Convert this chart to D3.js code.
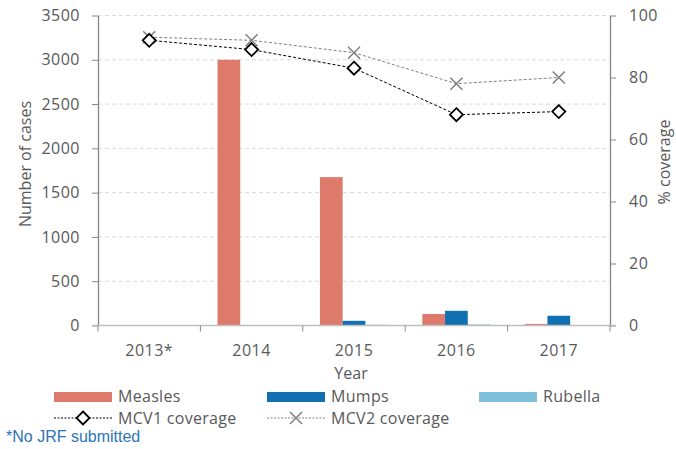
<!DOCTYPE html>
<html>
<head>
<meta charset="utf-8">
<script src="https://cdn.jsdelivr.net/npm/d3@7"></script>
<style>
  body { margin: 0; background: #fff; }
  text { font-family: "Open Sans", sans-serif; fill: #595959; }
</style>
</head>
<body>
<svg width="676" height="449"></svg>
<script>
// data
const years = ["2013*", "2014", "2015", "2016", "2017"];
const measles = [0, 3000, 1675, 130, 18];
const mumps = [0, 0, 53, 166, 110];
const rubella = [0, 0, 8, 12, 5];
const mcv1 = [92, 89, 83, 68, 69];
const mcv2 = [93, 92, 88, 78, 80];
const leftTicks = [0, 500, 1000, 1500, 2000, 2500, 3000, 3500];
const rightTicks = [0, 20, 40, 60, 80, 100];

const barSeries = [
  { name: "Measles", values: measles, color: "#DD7A6B" },
  { name: "Mumps", values: mumps, color: "#1070B2" },
  { name: "Rubella", values: rubella, color: "#80BFDA" }
];

window.onload = () => {
  const svg = d3.select("svg");
  const left = 98, right = 610, top = 15.5, bottom = 325.5;

  const x0 = d3.scaleBand().domain(years).range([left, right]).padding(0);
  const x1 = d3.scaleBand().domain(barSeries.map(s => s.name))
    .range([0, x0.bandwidth()]).paddingInner(0).paddingOuter(0.755);
  const yL = d3.scaleLinear().domain([0, 3500]).range([bottom, top]);
  const yR = d3.scaleLinear().domain([0, 100]).range([bottom, top]);

  // gridlines
  svg.append("g").selectAll("line")
    .data(leftTicks.filter(d => d > 0))
    .enter().append("line")
    .attr("x1", left).attr("x2", right)
    .attr("y1", d => yL(d)).attr("y2", d => yL(d))
    .attr("stroke", "#D9D9D9").attr("stroke-dasharray", "4,3");

  // bars
  barSeries.forEach(s => {
    svg.append("g").selectAll("rect")
      .data(s.values)
      .enter().append("rect")
      .attr("x", (d, i) => x0(years[i]) + x1(s.name))
      .attr("y", d => yL(d))
      .attr("width", x1.bandwidth())
      .attr("height", d => bottom - yL(d))
      .attr("fill", s.color);
  });

  // left axis
  const gL = svg.append("g").attr("transform", `translate(${left},0)`)
    .call(d3.axisLeft(yL).tickValues(leftTicks).tickFormat(d3.format("d"))
      .tickSize(6).tickPadding(12).tickSizeOuter(0));
  // right axis
  const gR = svg.append("g").attr("transform", `translate(${right},0)`)
    .call(d3.axisRight(yR).tickValues(rightTicks).tickSize(6).tickPadding(13).tickSizeOuter(0));
  [gL, gR].forEach(g => {
    g.select(".domain").attr("stroke", "#868686").attr("stroke-width", 1.3);
    g.selectAll(".tick line").attr("stroke", "#868686");
    g.selectAll(".tick text").style("font-size", "16px").attr("fill", "#595959")
      .style("font-family", "'Open Sans', sans-serif").attr("letter-spacing", "0.5");
  });

  // x axis
  svg.append("line")
    .attr("x1", left - 6).attr("x2", right + 6)
    .attr("y1", bottom).attr("y2", bottom)
    .attr("stroke", "#BFBFBF").attr("stroke-width", 1.5);
  const xTicks = years.map(y => x0(y)).concat([right]);
  svg.append("g").selectAll("line")
    .data(xTicks).enter().append("line")
    .attr("x1", d => d).attr("x2", d => d)
    .attr("y1", bottom).attr("y2", bottom + 6)
    .attr("stroke", "#868686");
  svg.append("g").selectAll("text")
    .data(years).enter().append("text")
    .attr("x", d => x0(d) + x0.bandwidth() / 2)
    .attr("y", 356)
    .attr("text-anchor", "middle")
    .style("font-size", "16px").attr("letter-spacing", "0.5")
    .text(d => d);

  // lines
  const lineFor = vals => d3.line()
    .x((d, i) => x0(years[i]) + x0.bandwidth() / 2)
    .y(d => yR(d))(vals);
  svg.append("path").attr("d", lineFor(mcv2))
    .attr("fill", "none").attr("stroke", "#808080").attr("stroke-width", 1)
    .attr("stroke-dasharray", "3,2");
  svg.append("path").attr("d", lineFor(mcv1))
    .attr("fill", "none").attr("stroke", "#000").attr("stroke-width", 1)
    .attr("stroke-dasharray", "3,2");

  const diamond = (g, cx, cy) => g.append("path")
    .attr("d", `M${cx},${cy - 6.5}L${cx + 6.5},${cy}L${cx},${cy + 6.5}L${cx - 6.5},${cy}Z`)
    .attr("fill", "#fff").attr("stroke", "#000").attr("stroke-width", 1.8);
  const cross = (g, cx, cy) => g.append("path")
    .attr("d", `M${cx - 6},${cy - 6}L${cx + 6},${cy + 6}M${cx - 6},${cy + 6}L${cx + 6},${cy - 6}`)
    .attr("stroke", "#7F7F7F").attr("stroke-width", 1.5);

  const mk = svg.append("g");
  mcv2.forEach((v, i) => cross(mk, x0(years[i]) + x0.bandwidth() / 2, yR(v)));
  mcv1.forEach((v, i) => diamond(mk, x0(years[i]) + x0.bandwidth() / 2, yR(v)));

  // axis titles
  svg.append("text")
    .attr("transform", "translate(31,164) rotate(-90)")
    .attr("text-anchor", "middle").style("font-size", "16px")
    .text("Number of cases");
  svg.append("text")
    .attr("transform", "translate(670,162) rotate(-90)")
    .attr("text-anchor", "middle").style("font-size", "16px")
    .text("% coverage");
  svg.append("text")
    .attr("x", 351).attr("y", 379)
    .attr("text-anchor", "middle").style("font-size", "16px")
    .text("Year");

  // legend
  const leg = svg.append("g");
  const legX = [54, 267, 479];
  barSeries.forEach((s, i) => {
    leg.append("rect").attr("x", legX[i]).attr("y", 392).attr("width", 58).attr("height", 10)
      .attr("fill", s.color);
    leg.append("text").attr("x", legX[i] + 64).attr("y", 402)
      .style("font-size", "16px").attr("letter-spacing", "0.3").text(s.name);
  });
  leg.append("line").attr("x1", 54).attr("x2", 112).attr("y1", 418).attr("y2", 418)
    .attr("stroke", "#000").attr("stroke-dasharray", "2,1.5");
  diamond(leg, 83, 418);
  leg.append("text").attr("x", 118).attr("y", 424)
    .style("font-size", "16px").attr("letter-spacing", "0.3").text("MCV1 coverage");
  leg.append("line").attr("x1", 267).attr("x2", 325).attr("y1", 418).attr("y2", 418)
    .attr("stroke", "#808080").attr("stroke-dasharray", "2,1.5");
  cross(leg, 296, 418);
  leg.append("text").attr("x", 331).attr("y", 424)
    .style("font-size", "16px").attr("letter-spacing", "0.3").text("MCV2 coverage");

  svg.append("text").attr("x", 6).attr("y", 442)
    .style("font-family", "'Liberation Sans Narrow', 'Arial Narrow', sans-serif")
    .style("font-size", "16px").style("fill", "#2E74B5")
    .text("*No JRF submitted");
};
</script>
</body>
</html>
